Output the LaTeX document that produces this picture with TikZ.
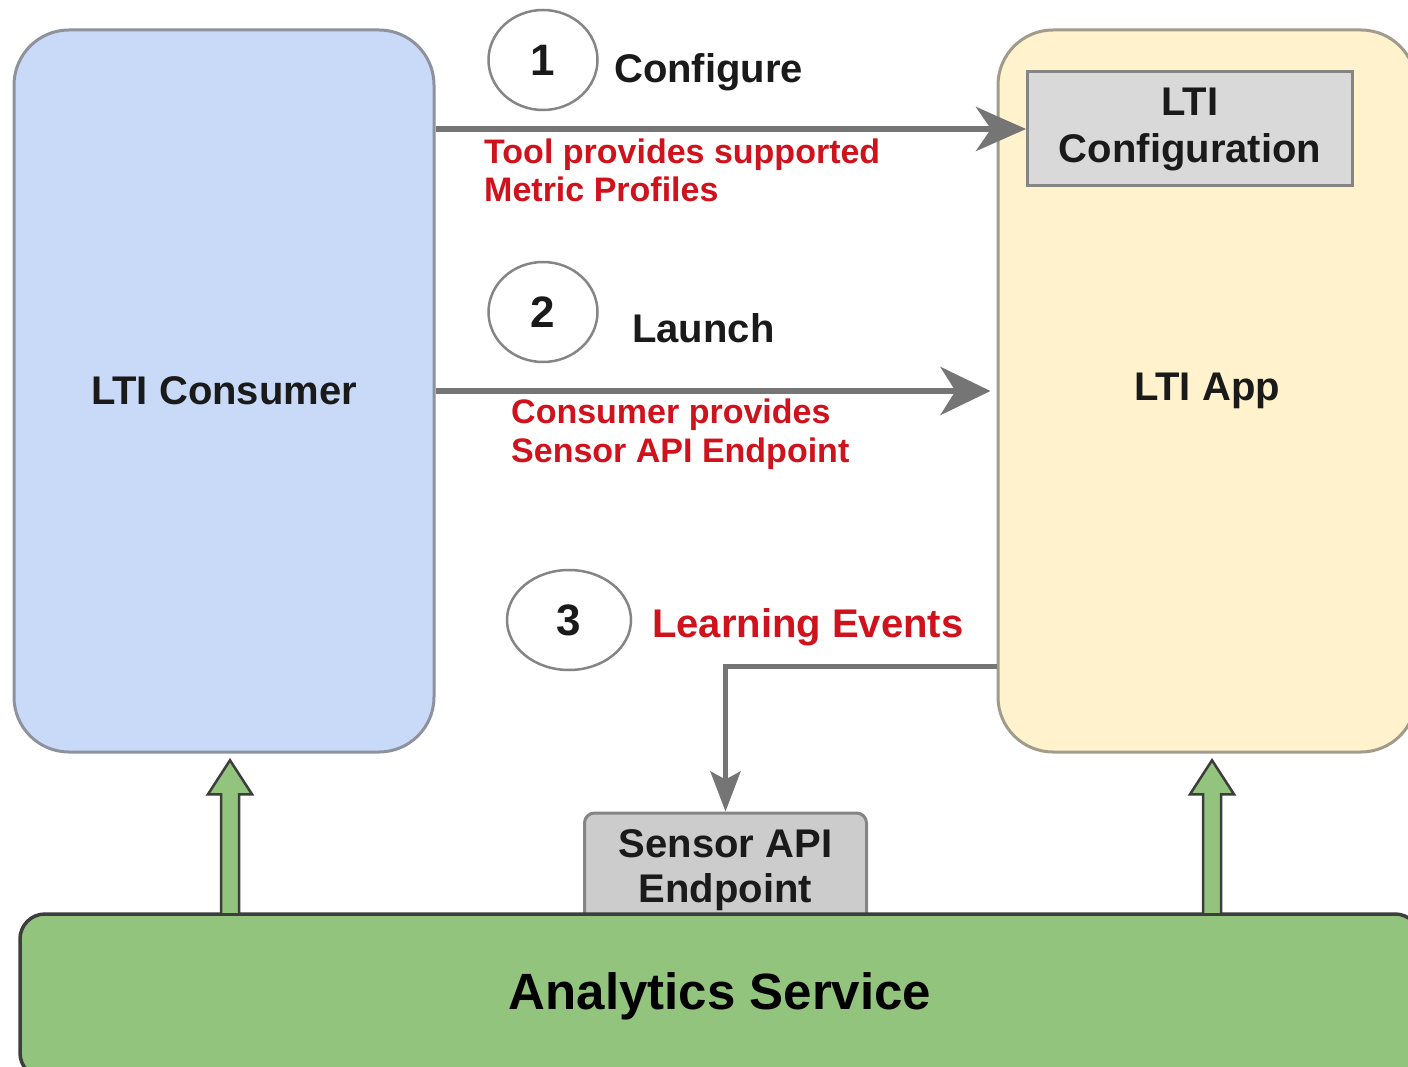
\documentclass[tikz,border=0pt]{standalone}
\usepackage{fontspec}
\setmainfont{Liberation Sans}
\usetikzlibrary{arrows.meta,shapes.geometric,calc}
\definecolor{blueF}{HTML}{C9DAF8}
\definecolor{blueD}{HTML}{8C939C}
\definecolor{yellowF}{HTML}{FFF2CC}
\definecolor{yellowD}{HTML}{A19B8C}
\definecolor{grayF}{HTML}{D9D9D9}
\definecolor{sensorF}{HTML}{CCCCCC}
\definecolor{boxD}{HTML}{858585}
\definecolor{greenF}{HTML}{93C47D}
\definecolor{greenD}{HTML}{3D3D3D}
\definecolor{arrG}{HTML}{757575}
\definecolor{redT}{HTML}{D0121C}
\definecolor{txt}{HTML}{1A1A1A}
\newcommand\myfs[2]{\fontsize{#1}{#2}\selectfont\bfseries}
\begin{document}
\begin{tikzpicture}[x=1pt,y=-1pt,
  bigbox/.style={rectangle, rounded corners=55pt, line width=3pt, inner sep=0pt, text=txt, font=\myfs{40}{46}},
  greybox/.style={rectangle, draw=boxD, line width=3pt, inner sep=0pt, text=txt, align=center, font=\myfs{40}{46}},
  circ/.style={ellipse, draw=boxD, line width=2.5pt, fill=white, inner sep=0pt, text=txt, font=\myfs{44}{48}},
  lbl/.style={inner sep=0pt, text=txt, font=\myfs{40}{46}},
  rlbl/.style={inner sep=0pt, text=redT, align=left, font=\myfs{34}{38.5}},
  conn/.style={draw=arrG, line width=6pt},
  garrow/.style={fill=greenF, draw=greenD, line width=2.5pt, line join=miter}
]
\clip (0,0) rectangle (1408,1067);
\fill[white] (0,0) rectangle (1408,1067);

% main boxes
\node[bigbox, fill=blueF, draw=blueD, minimum width=420pt, minimum height=722pt] (consumer) at (224,391) {LTI Consumer};
\node[bigbox, fill=yellowF, draw=yellowD, minimum width=418pt, minimum height=722pt] (app) at (1207,391) {LTI App};
\node[greybox, fill=grayF, minimum width=325pt, minimum height=114pt, font=\myfs{40}{47}] (config) at (1190,129) {LTI\\Configuration};

% arrows 1 and 2
\draw[conn, -{Stealth[length=50pt,width=44pt,inset=15pt]}] (config.west -| consumer.east) -- (config.west);
\draw[conn, shorten >=6pt, -{Stealth[length=50pt,width=48pt,inset=15pt]}] (consumer.east) -- (app.west);

% step circles and labels
\node[circ, minimum width=109pt, minimum height=100pt] (c1) at (543,60) {1};
\node[circ, minimum width=109pt, minimum height=100pt] (c2) at (543,312) {2};
\node[circ, minimum width=124pt, minimum height=100pt] (c3) at (569,620) {3};
\node[lbl, anchor=base west] (l1) at (614,83) {Configure};
\node[lbl, anchor=base west] (l2) at (632,342) {Launch};
\node[lbl, text=redT, anchor=base west] (l3) at (652,637) {Learning Events};
\node[rlbl, anchor=base west] (r1) at (484,202) {Tool provides supported\\Metric Profiles};
\node[rlbl, anchor=base west] (r2) at (511,462) {Consumer provides\\Sensor API Endpoint};

% sensor endpoint
\node[greybox, fill=sensorF, rounded corners=10pt, minimum width=282pt, minimum height=114pt, font=\myfs{40}{45}] (sensor) at (725.5,870) {Sensor API\\Endpoint};

% arrow 3
\coordinate (y3) at (0,666);
\draw[conn, line width=5pt, -{Stealth[length=40pt,width=30pt,inset=8pt]}] (app.west |- y3) -| (sensor.north);

% analytics service
\node[rectangle, rounded corners=25pt, fill=greenF, draw=greenD, line width=3.5pt, minimum width=1400pt, minimum height=164pt, text=black, font=\myfs{51}{56}] (analytics) at (720,996) {Analytics Service};

% green block arrows
\coordinate (ga) at ($(analytics.north -| consumer.south)+(6,0)$);
\coordinate (gb) at ($(analytics.north -| app.south)+(5,0)$);
\draw[garrow] (ga) ++(-9,2) -- ++(0,-120) -- ++(-13,0) -- ++(22,-34) -- ++(22,34) -- ++(-13,0) -- ++(0,120) -- cycle;
\draw[garrow] (gb) ++(-9,2) -- ++(0,-120) -- ++(-13,0) -- ++(22,-34) -- ++(22,34) -- ++(-13,0) -- ++(0,120) -- cycle;
\end{tikzpicture}
\end{document}
